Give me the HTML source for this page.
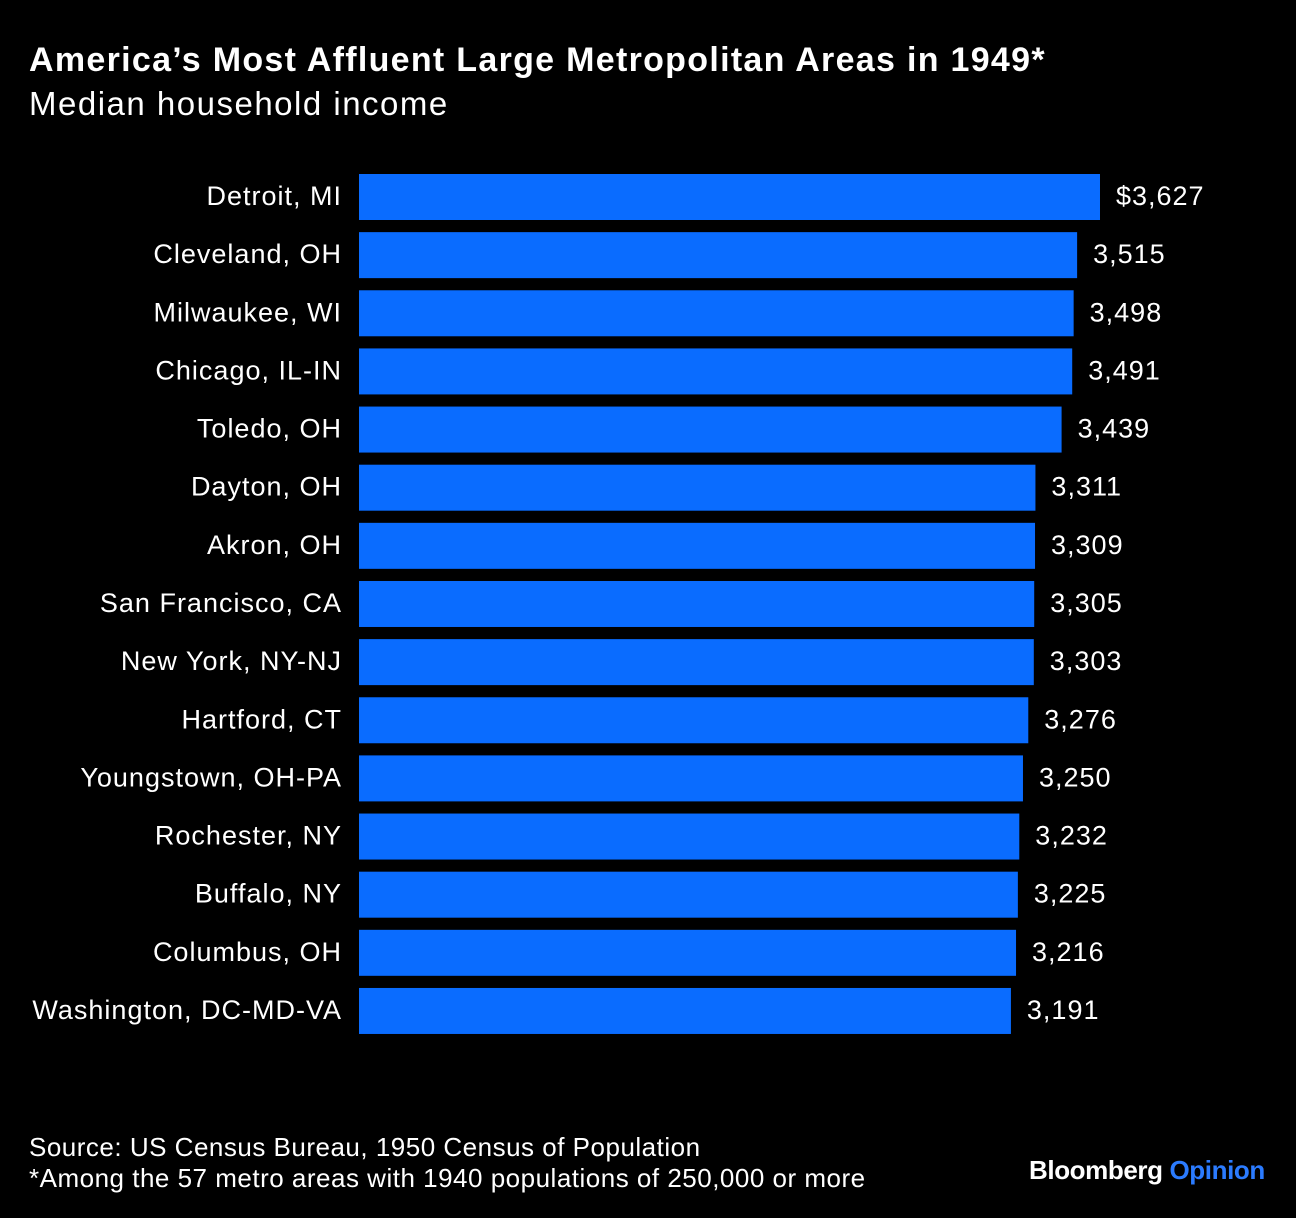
<!DOCTYPE html>
<html><head><meta charset="utf-8">
<style>
body{margin:0;background:#000;width:1296px;height:1218px;overflow:hidden;font-family:"Liberation Sans",sans-serif;color:#fff}
#title{position:absolute;left:29px;top:41px;font-size:34px;font-weight:bold;letter-spacing:1.3px;white-space:nowrap}
#subtitle{position:absolute;left:29px;top:85px;font-size:33px;letter-spacing:1.5px;white-space:nowrap}
#src{position:absolute;left:29px;top:1132px;font-size:26px;line-height:31px;letter-spacing:0.5px;white-space:nowrap}
#logo{position:absolute;left:1029px;top:1155px;font-size:26px;font-weight:bold;letter-spacing:-0.4px}
#logo span{color:#2b7bff}
svg{position:absolute;left:0;top:0}
</style></head><body>
<div id="title">America’s Most Affluent Large Metropolitan Areas in 1949*</div>
<div id="subtitle">Median household income</div>
<svg id="chart" width="1296" height="1218"></svg>
<div id="src">Source: US Census Bureau, 1950 Census of Population<br>*Among the 57 metro areas with 1940 populations of 250,000 or more</div>
<div id="logo">Bloomberg <span>Opinion</span></div>
<script>
const categories=["Detroit, MI","Cleveland, OH","Milwaukee, WI","Chicago, IL-IN","Toledo, OH","Dayton, OH","Akron, OH","San Francisco, CA","New York, NY-NJ","Hartford, CT","Youngstown, OH-PA","Rochester, NY","Buffalo, NY","Columbus, OH","Washington, DC-MD-VA"];
const values=[3627,3515,3498,3491,3439,3311,3309,3305,3303,3276,3250,3232,3225,3216,3191];
const valueLabels=["$3,627","3,515","3,498","3,491","3,439","3,311","3,309","3,305","3,303","3,276","3,250","3,232","3,225","3,216","3,191"];
const svg=document.getElementById('chart');
const NS='http://www.w3.org/2000/svg';
const x=v=>359+v*0.2043;
const y=i=>174+i*58.14;
const bh=46;
categories.forEach((c,i)=>{
  const r=document.createElementNS(NS,'rect');
  r.setAttribute('x',x(0));r.setAttribute('y',y(i));
  r.setAttribute('width',x(values[i])-x(0));r.setAttribute('height',bh);
  r.setAttribute('fill','#0a6cff');
  
  
  svg.appendChild(r);
  const t=document.createElementNS(NS,'text');
  t.setAttribute('x',342);t.setAttribute('y',y(i)+bh/2+8);
  t.setAttribute('text-anchor','end');t.setAttribute('fill','#fff');t.setAttribute('font-size','27');t.setAttribute('letter-spacing','1');
  t.textContent=c;
  
  
  svg.appendChild(t);
  const v=document.createElementNS(NS,'text');
  v.setAttribute('x',x(values[i])+16);v.setAttribute('y',y(i)+bh/2+8);
  v.setAttribute('fill','#fff');v.setAttribute('font-size','27');v.setAttribute('letter-spacing','1');
  v.textContent=valueLabels[i];
  
  
  svg.appendChild(v);
});
</script>
</body></html>
